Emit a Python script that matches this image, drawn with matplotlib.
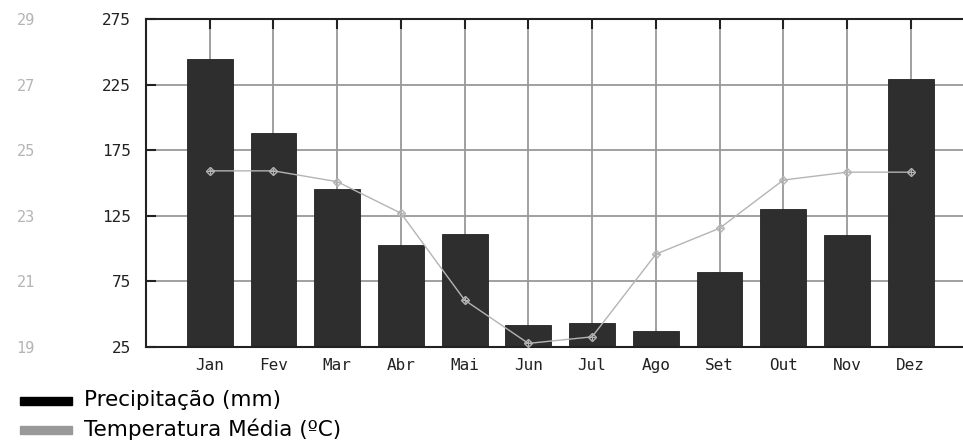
import matplotlib
matplotlib.use("Agg")
import matplotlib.pyplot as plt
from matplotlib.patches import Rectangle

# -----------------------------
# Data
# -----------------------------
months = ["Jan", "Fev", "Mar", "Abr", "Mai", "Jun",
          "Jul", "Ago", "Set", "Out", "Nov", "Dez"]
precip_mm = [244.5, 188, 145.5, 102.5, 111.5, 42, 43.5, 37.5, 82, 130.5, 110, 229.5]
temp_c = [24.37, 24.37, 24.04, 23.08, 20.43, 19.11, 19.31, 21.83, 22.62, 24.09, 24.33, 24.33]

precip_ticks = [25, 75, 125, 175, 225, 275]
temp_ticks = [19, 21, 23, 25, 27, 29]

BAR_COLOR = "#2e2e2e"
GRID_COLOR = "#999999"
TEMP_COLOR = "#b4b4b4"
TICK_FONT = "DejaVu Sans Mono"


def plot_climate():
    fig = plt.figure(figsize=(9.63, 4.41), dpi=100)
    ax = fig.add_axes([146 / 963, 1 - 347 / 441, 1 - 146 / 963, (347 - 19) / 441])

    x = list(range(len(months)))

    # precipitation bars
    ax.bar(x, precip_mm, width=0.72, bottom=0, color=BAR_COLOR,
           edgecolor="#222222", linewidth=0.6, zorder=2)
    ax.set_ylim(precip_ticks[0], precip_ticks[-1])
    ax.set_xlim(-1, 11.82)
    ax.set_yticks(precip_ticks)
    ax.set_xticks(x)
    ax.set_xticklabels(months)

    ax.grid(True, color=GRID_COLOR, linewidth=1.3)
    ax.set_axisbelow(True)

    for side in ["top", "left", "bottom"]:
        ax.spines[side].set_linewidth(1.5)
        ax.spines[side].set_color("#222222")
    ax.spines["right"].set_visible(False)

    ax.tick_params(axis="x", which="both", top=True, bottom=False,
                   labeltop=False, labelbottom=True, direction="in",
                   length=7, width=1.5, color="#222222", pad=8)
    ax.tick_params(axis="y", which="both", left=True, right=False,
                   direction="in", length=7, width=1.5, color="#222222", pad=11)
    for lbl in ax.get_xticklabels() + ax.get_yticklabels():
        lbl.set_fontfamily(TICK_FONT)
        lbl.set_fontsize(11.5)
        lbl.set_color("#222222")

    # average temperature on a second scale, labels far left
    ax2 = ax.twinx()
    ax2.plot(x, temp_c, color=TEMP_COLOR, linewidth=1.0, marker="D",
             markersize=4.5, markerfacecolor="none",
             markeredgecolor=TEMP_COLOR, markeredgewidth=1.0, zorder=3)
    ax2.plot(x, temp_c, linestyle="none", marker="+", markersize=4,
             markeredgecolor=TEMP_COLOR, markeredgewidth=0.8, zorder=3)
    ax2.set_ylim(temp_ticks[0], temp_ticks[-1])
    ax2.set_yticks(temp_ticks)
    ax2.yaxis.tick_left()
    ax2.tick_params(axis="y", length=0, pad=80)
    for lbl in ax2.get_yticklabels():
        lbl.set_fontfamily(TICK_FONT)
        lbl.set_fontsize(11)
        lbl.set_color(TEMP_COLOR)
    for side in ax2.spines:
        ax2.spines[side].set_visible(False)

    # legend (bottom left)
    fig.patches.append(Rectangle((20 / 963, 1 - 405 / 441), 52 / 963, 8 / 441,
                                 transform=fig.transFigure, color="#000000"))
    fig.text(84 / 963, 1 - 400 / 441, "Precipitação (mm)", fontsize=15.5,
             va="center", ha="left", color="#000000")
    fig.patches.append(Rectangle((20 / 963, 1 - 434 / 441), 52 / 963, 8 / 441,
                                 transform=fig.transFigure, color="#999999"))
    fig.text(84 / 963, 1 - 429 / 441, "Temperatura Média (ºC)", fontsize=15.5,
             va="center", ha="left", color="#000000")

    fig.savefig("out.png", dpi=100)
    plt.close(fig)


if __name__ == "__main__":
    plot_climate()
